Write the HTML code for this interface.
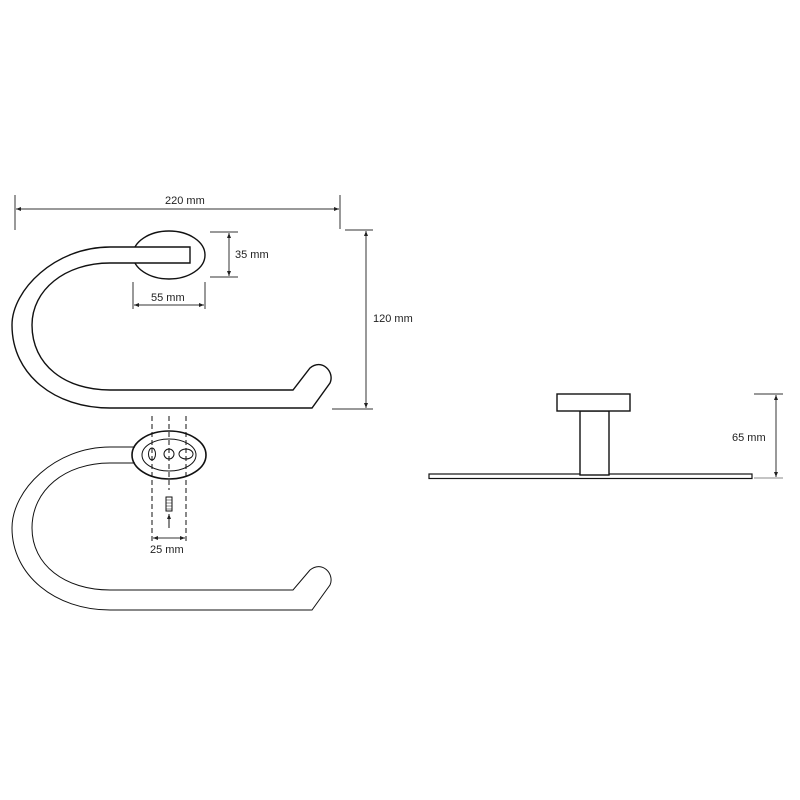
<!DOCTYPE html>
<html><head><meta charset="utf-8"><style>html,body{margin:0;padding:0;background:#fff}svg{display:block}text{font-family:"Liberation Sans",sans-serif;font-size:11px;fill:#222}</style></head>
<body>
<svg width="800" height="800" viewBox="0 0 800 800" xmlns="http://www.w3.org/2000/svg">
<defs><marker id="a" markerWidth="6" markerHeight="6" refX="5" refY="3" orient="auto-start-reverse"><path d="M0,1 L5,3 L0,5 Z" fill="#222"/></marker></defs>
<g fill="none" stroke="#111" stroke-width="1.4">
<!-- top ring -->
<ellipse cx="169" cy="255" rx="36" ry="24" fill="#fff"/>
<path d="M190,247 L110,247 C55,247 12,290 12,325 C12,375 55,408 110,408 L312,408 L330,383 C335,372 322,358 310,368 L293,390 L110,390 C65,390 32,365 32,325 C32,290 65,263 110,263 L190,263 Z" fill="#fff"/>
<!-- bottom ring -->
<path d="M135,447 L110,447 C55,447 12,490 12,528 C12,575 55,610 110,610 L312,610 L330,585 C335,574 322,560 310,570 L293,590 L110,590 C65,590 32,565 32,528 C32,490 65,463 110,463 L135,463" stroke-width="1"/>
<ellipse cx="169" cy="455" rx="37" ry="24" stroke-width="1.6"/>
<ellipse cx="169" cy="455" rx="27" ry="16" stroke-width="1"/>
<ellipse cx="152" cy="454" rx="3.5" ry="6" stroke-width="1"/>
<circle cx="169" cy="454" r="5" stroke-width="1"/>
<ellipse cx="186" cy="454" rx="7" ry="5" stroke-width="1"/>
<g stroke-width="1" stroke-dasharray="5,3"><line x1="152" y1="416" x2="152" y2="542"/><line x1="169" y1="416" x2="169" y2="490"/><line x1="186" y1="416" x2="186" y2="542"/></g>
<rect x="166" y="497" width="6" height="14" stroke-width="1"/>
<path d="M166,500h6M166,503h6M166,506h6M166,509h6" stroke-width="0.6"/>
<line x1="169" y1="528" x2="169" y2="514" stroke-width="1" marker-end="url(#a)"/>
<!-- side view -->
<rect x="429" y="474" width="323" height="4.5" stroke-width="1.2"/>
<rect x="580" y="411" width="29" height="64" stroke-width="1.4" fill="#fff"/>
<rect x="557" y="394" width="73" height="17" stroke-width="1.4" fill="#fff"/>
</g>
<g stroke="#333" stroke-width="1" fill="none">
<line x1="15" y1="195" x2="15" y2="230"/><line x1="340" y1="195" x2="340" y2="229"/>
<line x1="16" y1="209" x2="339" y2="209" marker-start="url(#a)" marker-end="url(#a)"/>
<line x1="210" y1="232" x2="238" y2="232"/><line x1="210" y1="277" x2="238" y2="277"/>
<line x1="229" y1="233" x2="229" y2="276" marker-start="url(#a)" marker-end="url(#a)"/>
<line x1="133" y1="282" x2="133" y2="309"/><line x1="205" y1="282" x2="205" y2="309"/>
<line x1="134" y1="305" x2="204" y2="305" marker-start="url(#a)" marker-end="url(#a)"/>
<line x1="345" y1="230" x2="373" y2="230"/><line x1="332" y1="409" x2="373" y2="409"/>
<line x1="366" y1="231" x2="366" y2="408" marker-start="url(#a)" marker-end="url(#a)"/>
<line x1="153" y1="538" x2="185" y2="538" marker-start="url(#a)" marker-end="url(#a)"/>
<line x1="754" y1="394" x2="783" y2="394"/><line x1="754" y1="478" x2="783" y2="478" stroke="#888"/>
<line x1="776" y1="395" x2="776" y2="477" marker-start="url(#a)" marker-end="url(#a)"/>
</g>
<text x="165" y="204">220 mm</text>
<text x="235" y="258">35 mm</text>
<text x="151" y="301">55 mm</text>
<text x="373" y="322">120 mm</text>
<text x="150" y="553">25 mm</text>
<text x="732" y="441">65 mm</text>
</svg>
</body></html>
